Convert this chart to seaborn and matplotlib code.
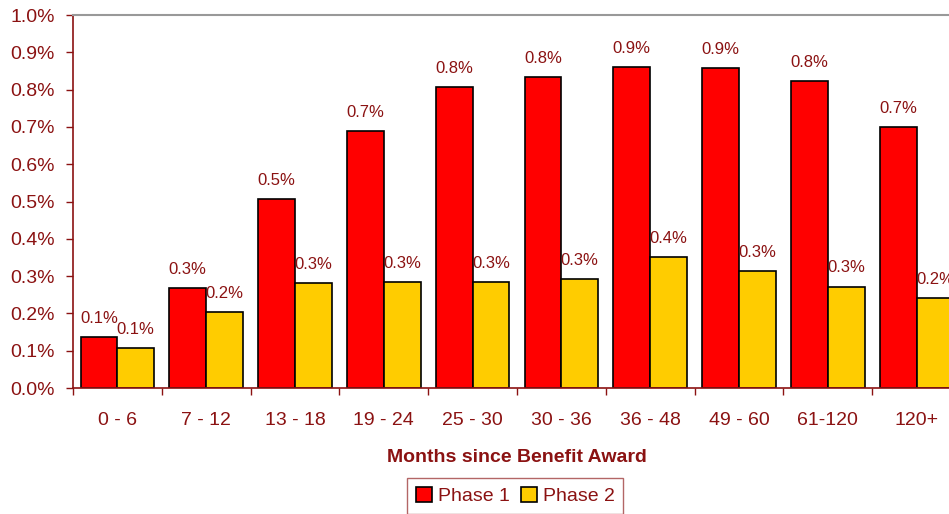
import pandas as pd
import seaborn as sns
import matplotlib.pyplot as plt
from matplotlib.ticker import PercentFormatter, FixedLocator

# data (percent)
months = ["0 - 6", "7 - 12", "13 - 18", "19 - 24", "25 - 30",
          "30 - 36", "36 - 48", "49 - 60", "61-120", "120+"]
phase1 = [0.137, 0.267, 0.507, 0.689, 0.807, 0.834, 0.861, 0.857, 0.824, 0.700]
phase2 = [0.106, 0.204, 0.281, 0.284, 0.284, 0.292, 0.352, 0.314, 0.272, 0.241]

df = pd.DataFrame({
    "months": months * 2,
    "rate": phase1 + phase2,
    "phase": ["Phase 1"] * len(months) + ["Phase 2"] * len(months),
})

sns.set_theme(style="white")
plt.rcParams["font.family"] = ["Liberation Sans", "DejaVu Sans"]

maroon = "#8b1212"

fig = plt.figure(figsize=(9.49, 5.14), dpi=100)
ax = fig.add_axes([0.0769, 0.2451, 0.9357, 0.7257])

sns.barplot(data=df, x="months", y="rate", hue="phase",
            palette=["#ff0000", "#ffcc00"], width=0.83,
            edgecolor="black", linewidth=1.2, saturation=1, ax=ax)

for cont in ax.containers:
    ax.bar_label(cont, labels=[f"{v:.1f}%" for v in cont.datavalues],
                 padding=8, color=maroon, fontsize=12)

ax.set_ylim(0, 1.0)
ax.set_xlim(-0.5, len(months) - 0.5)
ax.yaxis.set_major_formatter(PercentFormatter(100, decimals=1))
ax.set_yticks([i / 10 for i in range(11)])

# tick marks between categories
ax.xaxis.set_minor_locator(FixedLocator([i - 0.5 for i in range(len(months) + 1)]))
ax.tick_params(axis="x", which="major", length=0, pad=17, labelsize=14, labelcolor=maroon)
ax.tick_params(axis="x", which="minor", length=5, width=1, color=maroon, direction="out", bottom=True)
ax.tick_params(axis="y", length=5, width=1, color=maroon, direction="out", left=True,
               labelsize=14, labelcolor=maroon, pad=8)

for s in ["left", "bottom"]:
    ax.spines[s].set_color(maroon)
    ax.spines[s].set_linewidth(1.2)
ax.spines["top"].set_color("#999999")
ax.spines["top"].set_linewidth(1.5)
ax.spines["right"].set_visible(False)

ax.set_ylabel("")
ax.set_xlabel("Months since Benefit Award", fontsize=14, fontweight="bold",
              color=maroon, labelpad=15)

handles, labels = ax.get_legend_handles_labels()
ax.get_legend().remove()
leg = fig.legend(handles, labels, loc="upper center", bbox_to_anchor=(0.543, 0.07),
                 borderaxespad=0, ncol=2, frameon=True, fancybox=False, edgecolor="#a04040",
                 fontsize=14, handlelength=0.8, handleheight=0.8, handletextpad=0.3,
                 columnspacing=0.6, borderpad=0.45)
for t in leg.get_texts():
    t.set_color(maroon)

plt.savefig("out.png", dpi=100)
